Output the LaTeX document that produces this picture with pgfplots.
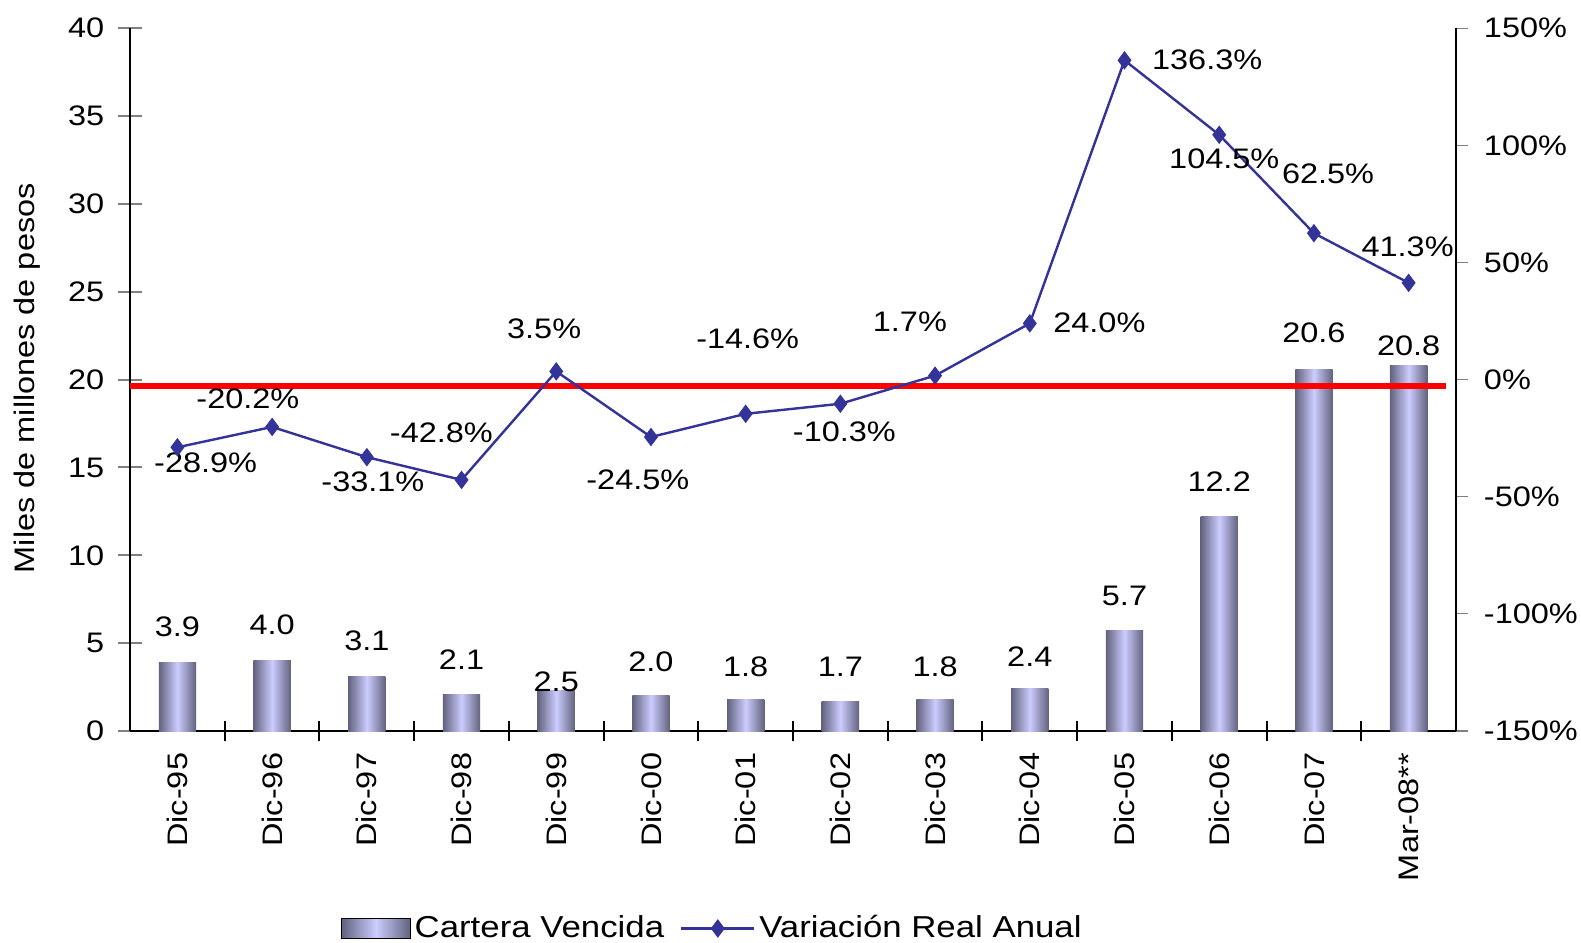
\documentclass[border=0pt]{standalone}
\usepackage{fontspec}
\setmainfont{Liberation Sans}[FakeStretch=1.15]
\usepackage{pgfplots}
\pgfplotsset{compat=1.18}
\definecolor{bardark}{RGB}{98,98,126}
\definecolor{barlight}{RGB}{204,204,255}
\definecolor{linecol}{RGB}{51,51,153}
\pgfplotsset{mylineleg/.style={legend image code/.code={\draw[mark repeat=2,mark phase=2,##1] plot coordinates {(0pt,0pt) (18pt,0pt) (36pt,0pt)};}},
  mybar/.style={ybar, bar width=18.5pt, bar shift=0pt, draw=none, left color=bardark, right color=bardark, middle color=barlight, forget plot}}
\begin{document}
\fontsize{14}{16}\selectfont
\begin{tikzpicture}[font=\fontsize{14}{16}\selectfont]
\useasboundingbox (-64.5pt,-105pt) rectangle (719.5pt,362.5pt);
\begin{axis}[
  at={(0,0)}, anchor=south west,
  scale only axis, width=657.5pt, height=348.5pt,
  xmin=-0.5, xmax=13.5, ymin=0, ymax=40,
  axis y line*=left, axis x line*=bottom,
  axis line style={line width=1pt},
  xtick={0,...,13},
  xticklabels={Dic-95,Dic-96,Dic-97,Dic-98,Dic-99,Dic-00,Dic-01,Dic-02,Dic-03,Dic-04,Dic-05,Dic-06,Dic-07,Mar-08**},
  x tick label style={rotate=90, anchor=east},
  xticklabel shift=0pt,
  major x tick style={draw=none},
  extra x ticks={0.5,1.5,...,12.5},
  extra x tick labels={},
  extra x tick style={major x tick style={draw=black, line width=1pt}, major tick length=10pt, tick align=center},
  ytick={0,5,...,40},
  yticklabels={0,5,10,15,20,25,30,35,40},
  major y tick style={line width=1pt},
  tick align=center, major tick length=12pt,
  yticklabel shift=2pt,
  every axis y label/.style={at={(axis description cs:-0.0776,0.502)}, rotate=90, anchor=center},
  ylabel={Miles de millones de pesos},
]
\addplot[mybar] coordinates {(0,3.9)};
\addplot[mybar] coordinates {(1,4.0)};
\addplot[mybar] coordinates {(2,3.1)};
\addplot[mybar] coordinates {(3,2.1)};
\addplot[mybar] coordinates {(4,2.3)};
\addplot[mybar] coordinates {(5,2.0)};
\addplot[mybar] coordinates {(6,1.8)};
\addplot[mybar] coordinates {(7,1.7)};
\addplot[mybar] coordinates {(8,1.8)};
\addplot[mybar] coordinates {(9,2.4)};
\addplot[mybar] coordinates {(10,5.7)};
\addplot[mybar] coordinates {(11,12.2)};
\addplot[mybar] coordinates {(12,20.6)};
\addplot[mybar] coordinates {(13,20.8)};
\node at (axis cs:0,5.91) {3.9};
\node at (axis cs:1,6.03) {4.0};
\node at (axis cs:2,5.11) {3.1};
\node at (axis cs:3,4.07) {2.1};
\node at (axis cs:4,2.81) {2.5};
\node at (axis cs:5,3.96) {2.0};
\node at (axis cs:6,3.67) {1.8};
\node at (axis cs:7,3.67) {1.7};
\node at (axis cs:8,3.67) {1.8};
\node at (axis cs:9,4.25) {2.4};
\node at (axis cs:10,7.69) {5.7};
\node at (axis cs:11,14.17) {12.2};
\node at (axis cs:12,22.67) {20.6};
\node at (axis cs:13,21.92) {20.8};
\end{axis}
\begin{axis}[
  at={(0,0)}, anchor=south west,
  scale only axis, width=657.5pt, height=348.5pt,
  xmin=-0.5, xmax=13.5, ymin=-150, ymax=150,
  axis y line*=right, axis x line=none,
  axis line style={line width=1pt},
  ytick={-150,-100,-50,0,50,100,150},
  yticklabels={-150\%,-100\%,-50\%,0\%,50\%,100\%,150\%},
  tick align=outside, major tick length=6pt,
  major y tick style={line width=0.6pt},
  yticklabel shift=3pt,
  legend style={at={(0.44,-0.281)}, anchor=center, draw=none, legend columns=2,
    font=\fontsize{15}{17}\selectfont,
    /tikz/every even column/.append style={column sep=6pt}},
]
\addlegendimage{legend image code/.code={\fill[left color=bardark,right color=bardark,middle color=barlight] (0pt,-5pt) rectangle (34pt,5pt);}}
\addlegendentry{Cartera Vencida}
\addplot[red, line width=3pt, forget plot] coordinates {(-0.5,-2.8) (13.39,-2.8)};
\addplot[linecol, line width=1.2pt, mark=diamond*, mark size=4.2pt, mark options={fill=linecol, line width=0.5pt}, mylineleg]
 coordinates {(0,-28.9) (1,-20.2) (2,-33.1) (3,-42.8) (4,3.5) (5,-24.5) (6,-14.6) (7,-10.3) (8,1.7) (9,24.0) (10,136.3) (11,104.5) (12,62.5) (13,41.3)};
\addlegendentry{Variación Real Anual}
\node[xshift=14pt,yshift=-7.5pt] at (axis cs:0,-28.9) {-28.9\%};
\node[xshift=-12pt,yshift=14pt] at (axis cs:1,-20.2) {-20.2\%};
\node[xshift=3pt,yshift=-12pt] at (axis cs:2,-33.1) {-33.1\%};
\node[xshift=-10pt,yshift=23.5pt] at (axis cs:3,-42.8) {-42.8\%};
\node[xshift=-6pt,yshift=21pt] at (axis cs:4,3.5) {3.5\%};
\node[xshift=-6.5pt,yshift=-21pt] at (axis cs:5,-24.5) {-24.5\%};
\node[xshift=1pt,yshift=37pt] at (axis cs:6,-14.6) {-14.6\%};
\node[xshift=2pt,yshift=-14pt] at (axis cs:7,-10.3) {-10.3\%};
\node[xshift=-12.5pt,yshift=26.5pt] at (axis cs:8,1.7) {1.7\%};
\node[xshift=34.5pt,yshift=0.5pt] at (axis cs:9,24.0) {24.0\%};
\node[xshift=41pt,yshift=0.5pt] at (axis cs:10,136.3) {136.3\%};
\node[xshift=2.5pt,yshift=-12pt] at (axis cs:11,104.5) {104.5\%};
\node[xshift=7pt,yshift=29.5pt] at (axis cs:12,62.5) {62.5\%};
\node[xshift=-0.5pt,yshift=18pt] at (axis cs:13,41.3) {41.3\%};
\end{axis}
\end{tikzpicture}
\end{document}
